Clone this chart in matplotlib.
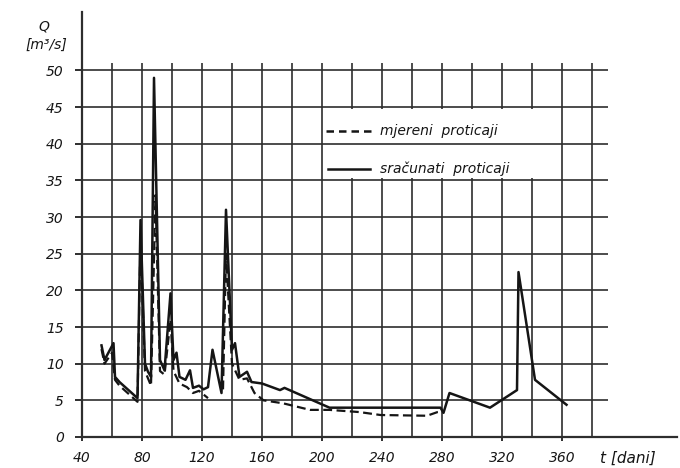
import numpy as np
import matplotlib
matplotlib.use("Agg")
import matplotlib.pyplot as plt
from matplotlib.patches import Rectangle

# sracunati proticaji (computed discharge)
dani_s = [53, 55, 61, 62, 65, 77, 79, 82, 84, 86, 88, 92, 95, 99, 101, 103, 105, 109,
          112, 114, 118, 121, 124, 127, 133, 136, 140, 142, 145, 150, 153, 160, 172,
          175, 205, 279, 281, 285, 312, 330, 331, 342, 363]
q_s = [12.5, 10.5, 12.8, 8.2, 7.5, 5.3, 29.6, 10.0, 8.9, 8.2, 49.0, 10.5, 9.1, 19.6,
       10.5, 11.5, 8.2, 7.8, 9.1, 6.7, 7.0, 6.5, 6.8, 11.9, 6.0, 31.0, 11.9, 12.8, 8.2,
       8.9, 7.5, 7.3, 6.4, 6.7, 4.0, 4.0, 3.3, 6.0, 4.0, 6.4, 22.5, 7.8, 4.4]

# mjereni proticaji (measured discharge), gap = missing data
dani_m = [53, 55, 60, 62, 65, 77, 79, 82, 86, 89, 92, 95, 99, 101, 105, 110, 114, 118,
          124, 125, 134, 136, 140, 145, 150, 155, 161, 174, 192, 205, 225, 239, 270,
          277, 280]
q_m = [12.0, 10.0, 11.5, 7.8, 7.0, 4.8, 27.0, 9.0, 7.0, 33.0, 9.0, 8.5, 16.0, 9.0,
       7.3, 6.8, 6.0, 6.3, 5.3, np.nan, 6.5, 25.0, 10.0, 7.8, 8.0, 6.0, 5.0, 4.6, 3.7,
       3.7, 3.4, 3.0, 2.9, 3.4, 3.5]

y_ticks = list(range(0, 55, 5))
x_ticks = list(range(40, 400, 40))
x_grid = list(range(60, 400, 20))

ink = "#151515"
grid_c = "#2e2e2e"
lab = dict(family="DejaVu Sans", style="italic", color=ink)

fig = plt.figure(figsize=(6.8, 4.68), dpi=100)
ax = fig.add_axes([82 / 680, 31 / 468, 595 / 680, 425 / 468])
ax.set_xlim(40, 40 + 595 / 1.5)
ax.set_ylim(0, 425 / 7.33)

for s in ["top", "right"]:
    ax.spines[s].set_visible(False)
for s in ["left", "bottom"]:
    ax.spines[s].set_color(grid_c)
    ax.spines[s].set_linewidth(1.6)

ax.set_yticks(y_ticks)
ax.set_yticklabels([str(v) for v in y_ticks], fontsize=10, **lab)
ax.set_xticks(x_ticks)
ax.set_xticklabels([str(v) for v in x_ticks], fontsize=10, **lab)
ax.tick_params(axis="y", length=5, width=1.4, color=grid_c, pad=8)
ax.tick_params(axis="x", length=3, width=1.4, color=grid_c, pad=7)

# grid
ax.vlines(x_grid, 0, 51, color=grid_c, lw=1.2, zorder=1)
ax.hlines(y_ticks[1:], 40, 390.7, color=grid_c, lw=1.2, zorder=2)

# legend box
ax.add_patch(Rectangle((201, 35.3), 158, 9.4, facecolor="white", edgecolor="none", zorder=1.5))
ax.plot([203, 235], [41.7, 41.7], color=ink, lw=1.8, dashes=(3, 2), zorder=3)
ax.text(239, 41.7, "mjereni  proticaji", fontsize=10, va="center", zorder=3, **lab)
ax.plot([204, 232], [36.6, 36.6], color=ink, lw=1.8, zorder=3)
ax.text(239, 36.6, "sračunati  proticaji", fontsize=10, va="center", zorder=3, **lab)

# data
ax.plot(dani_s, q_s, color=ink, lw=1.8, zorder=4)
ax.plot(dani_m, q_m, color=ink, lw=1.6, dashes=(4, 2), zorder=4)

# axis titles
fig.text(44 / 680, 1 - 27 / 468, "Q", fontsize=10, ha="center", va="center", **lab)
fig.text(46 / 680, 1 - 45 / 468, "[m³/s]", fontsize=10, ha="center", va="center", **lab)
fig.text(600 / 680, 1 - 458 / 468, "t [dani]", fontsize=11, ha="left", va="center", **lab)

fig.savefig("out.png", dpi=100, facecolor="white")
